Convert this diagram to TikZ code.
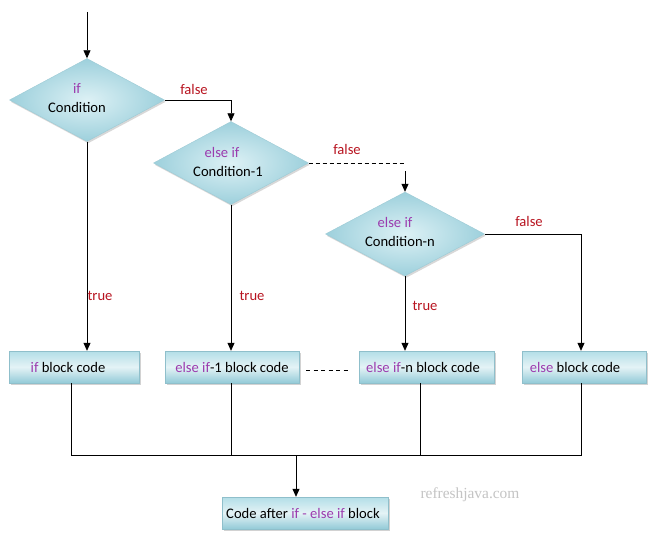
\documentclass[tikz,border=0pt]{standalone}
\usepackage{fontspec}
\setmainfont{Carlito}
\newfontfamily\wmfont{Liberation Serif}
\usetikzlibrary{shapes.geometric,arrows.meta,shadows,calc}
\definecolor{kw}{HTML}{9B3BAE}
\definecolor{lbl}{HTML}{B81420}
\definecolor{dlight}{HTML}{DDF1F5}
\definecolor{ddark}{HTML}{9DD0DC}
\definecolor{dedge}{HTML}{9CCAD5}
\definecolor{btop}{HTML}{B3DEE7}
\definecolor{bmid}{HTML}{E4F3F6}
\definecolor{bbot}{HTML}{93CAD7}
\definecolor{bedge}{HTML}{8FBFCB}
\definecolor{wm}{HTML}{C4C4C4}
\begin{document}
\begin{tikzpicture}[x=1pt,y=-1pt,
  font=\fontsize{14.6}{20}\selectfont,
  dec/.style={diamond, inner sep=0pt, minimum width=155pt, minimum height=83pt,
    inner color=dlight, outer color=ddark, draw=dedge, line width=0.4pt,
    drop shadow={shadow xshift=1.2pt, shadow yshift=-1.8pt, opacity=0.3}},
  dtext/.style={inner sep=0pt, align=center},
  blk/.style={rectangle, inner sep=0pt, minimum height=32pt,
    top color=btop, bottom color=bbot, middle color=bmid, draw=bedge, line width=0.4pt,
    drop shadow={shadow xshift=1.5pt, shadow yshift=-2pt, opacity=0.35}},
  line/.style={draw=black, line width=0.8pt},
  arr/.style={line, -{Triangle[length=8pt,width=7pt]}},
  lab/.style={text=lbl, inner sep=0pt}
]
\fill[white] (0,0) rectangle (657,543);
\useasboundingbox (0,0) rectangle (657,543);

% decisions
\node[dec] (d1) at (87,100) {};
\node[dec] (d2) at (231,163) {};
\node[dec, minimum width=159pt, minimum height=84pt] (d3) at (405,234) {};
\node[dtext] (t1a) at (77,88) {\color{kw}if};
\node[dtext] (t1b) at (77,107) {Condition};
\node[dtext] (t2a) at (222,152) {\color{kw}else if};
\node[dtext] (t2b) at (228,171) {Condition-1};
\node[dtext] (t3a) at (395,222) {\color{kw}else if};
\node[dtext] (t3b) at (400,241) {Condition-n};

% blocks
\node[blk, minimum width=130pt] (b1) at (74,367) {{\color{kw}if} block code\hspace*{12pt}};
\node[blk, minimum width=134pt] (b2) at (232,367) {{\color{kw}else if}-1 block code};
\node[blk, minimum width=135pt] (b3) at (426.5,367) {{\color{kw}else if}-n block code\hspace*{7pt}};
\node[blk, minimum width=124pt] (b4) at (584,367) {{\color{kw}else} block code\hspace*{18pt}};
\node[blk, minimum width=166pt] (fin) at (305,513) {Code after {\color{kw}if - else if} block\hspace*{4pt}};

% watermark
\node[text=wm, font=\wmfont\fontsize{15.4}{18}\selectfont] (wmk) at (470,495) {refreshjava.com};

% start
\coordinate (start) at (87,12);
\draw[arr] (start) -- (d1.north);

% false branches
\draw[arr] (d1.east) -- (d1.east -| d2.north) -- (d2.north);
\node[lab] (lf1) at (194,89) {false};

\coordinate (dashend) at (404,163);
\draw[line, dash pattern=on 4pt off 3pt] (d2.east) -- (dashend);
\coordinate (arrstart) at (405,171);
\draw[arr] (arrstart) -- (d3.north);
\node[lab] (lf2) at (347,149) {false};

\coordinate (c3) at (581,234);
\draw[arr] (d3.east) -- (c3) -- (c3 |- b4.north);
\node[lab] (lf3) at (529,221) {false};

% true branches
\draw[arr] (d1.south) -- (d1.south |- b1.north);
\node[lab] (lt1) at (100,296) {true};
\draw[arr] (d2.south) -- (d2.south |- b2.north);
\node[lab] (lt2) at (252,296) {true};
\draw[arr] (d3.south) -- (d3.south |- b3.north);
\node[lab] (lt3) at (425,306) {true};

% dots between blocks
\draw[line, dash pattern=on 4pt off 3.5pt, shorten <=7pt, shorten >=9pt] ([yshift=-3pt]b2.east) -- ([yshift=-3pt]b3.west);

% joins
\coordinate (j1) at (71,455);
\coordinate (j2) at (231,455);
\coordinate (j3) at (420,455);
\coordinate (j4) at (581,455);
\coordinate (jm) at (296,455);
\draw[line] (j1 |- b1.south) -- (j1) -- (j4) -- (j4 |- b4.south);
\draw[line] (j2 |- b2.south) -- (j2);
\draw[line] (j3 |- b3.south) -- (j3);
\draw[arr] (jm) -- (jm |- fin.north);
\end{tikzpicture}
\end{document}
